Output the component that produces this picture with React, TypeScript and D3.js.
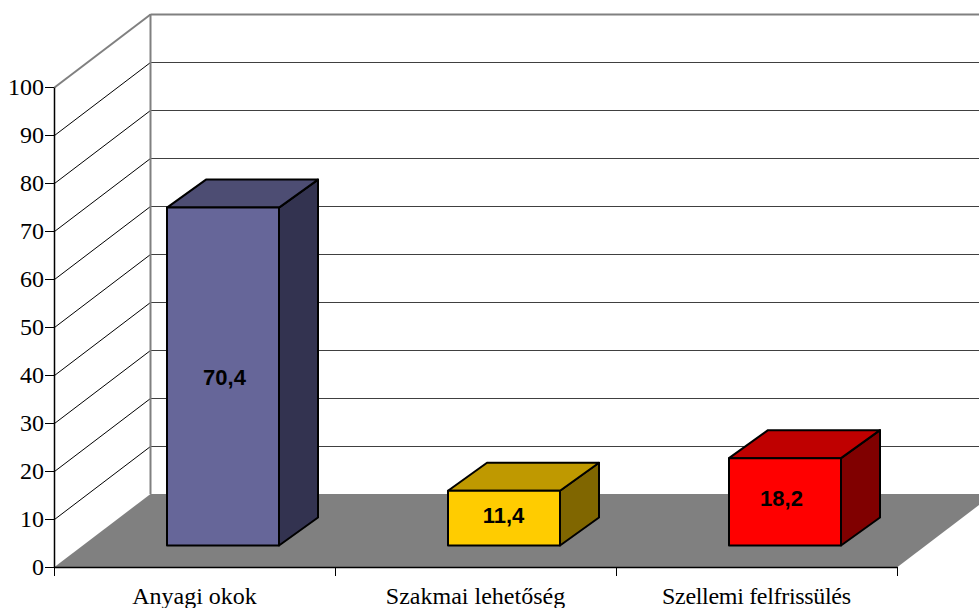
import React, { useEffect, useRef } from 'react';
import * as d3 from 'd3';

const categories = ['Anyagi okok', 'Szakmai lehetőség', 'Szellemi felfrissülés'];
const values = [70.4, 11.4, 18.2];
const valueLabels = ['70,4', '11,4', '18,2'];
const yTicks = [0, 10, 20, 30, 40, 50, 60, 70, 80, 90, 100];
const frontColors = ['#666699', '#ffcc00', '#ff0000'];
const topColors = ['#4d4d73', '#bf9900', '#bf0000'];
const sideColors = ['#333350', '#806600', '#800000'];

const App = () => {
  const svgRef = useRef<SVGSVGElement>(null);

  useEffect(() => {
    const svg = d3.select(svgRef.current);
    svg.selectAll('*').remove();

    const wallDx = 96;
    const wallDy = -73;
    // bars stand a bit inside the floor, and have their own depth
    const barDx = 28.5;
    const barDy = -21.5;
    const depthDx = 39;
    const depthDy = -28;
    const barWidth = 112;
    // value labels are not quite centred on the bars
    const labelNudgeX = [1.5, -0.5, -3.5];
    const labelNudgeY = [8.5, 5, 4];

    const x = d3.scaleBand().domain(categories).range([54, 897]);
    const y = d3.scaleLinear().domain([0, 100]).range([567, 87]);
    const x0 = x.range()[0] + 0.5;
    const x1 = x.range()[1] + 0.5;

    // floor
    svg.append('polygon')
      .attr('points', [
        [x0, y(0)],
        [x0 + wallDx, y(0) + wallDy],
        [x1 + wallDx, y(0) + wallDy],
        [x1, y(0)],
      ].join(' '))
      .attr('fill', '#808080');

    // grid on side wall and back wall
    const grid = svg.append('g');
    yTicks.filter(t => t > 0).forEach(t => {
      const top = t === 100;
      const gy = y(t) + 0.5;
      grid.append('line')
        .attr('x1', x0).attr('y1', gy)
        .attr('x2', x0 + wallDx).attr('y2', gy + wallDy)
        .attr('stroke', top ? '#808080' : '#000')
        .attr('stroke-width', top ? 2 : 1);
      grid.append('line')
        .attr('x1', x0 + wallDx).attr('y1', gy + wallDy)
        .attr('x2', x1 + wallDx).attr('y2', gy + wallDy)
        .attr('stroke', top ? '#808080' : '#404040')
        .attr('stroke-width', top ? 2 : 1);
    });
    grid.append('line')
      .attr('x1', x0 + wallDx).attr('y1', y(100) + wallDy)
      .attr('x2', x0 + wallDx).attr('y2', y(0) + wallDy)
      .attr('stroke', '#808080')
      .attr('stroke-width', 2);

    // bars
    const bars = svg.append('g')
      .attr('stroke', '#000')
      .attr('stroke-width', 2)
      .attr('stroke-linejoin', 'round');

    categories.forEach((c, i) => {
      const left = x(c)! + x.bandwidth() / 2 + barDx - barWidth / 2;
      const right = left + barWidth;
      const base = y(0) + barDy;
      const topY = y(values[i]) + barDy;

      bars.append('polygon')
        .attr('points', [
          [right, topY],
          [right + depthDx, topY + depthDy],
          [right + depthDx, base + depthDy],
          [right, base],
        ].join(' '))
        .attr('fill', sideColors[i]);
      bars.append('polygon')
        .attr('points', [
          [left, topY],
          [left + depthDx, topY + depthDy],
          [right + depthDx, topY + depthDy],
          [right, topY],
        ].join(' '))
        .attr('fill', topColors[i]);
      bars.append('rect')
        .attr('x', left)
        .attr('y', topY)
        .attr('width', barWidth)
        .attr('height', base - topY)
        .attr('fill', frontColors[i]);

      svg.append('text')
        .attr('x', (left + right) / 2 + labelNudgeX[i])
        .attr('y', (topY + base) / 2 + labelNudgeY[i])
        .attr('text-anchor', 'middle')
        .attr('font-family', '"Liberation Sans", Arial, sans-serif')
        .attr('font-weight', 'bold')
        .attr('font-size', 22)
        .attr('fill', '#000')
        .text(valueLabels[i]);
    });

    // axes
    const yAxis = svg.append('g')
      .attr('transform', `translate(${x.range()[0]},0)`)
      .call(d3.axisLeft(y).tickValues(yTicks).tickSize(9).tickPadding(1).tickSizeOuter(0));
    const xAxis = svg.append('g')
      .attr('transform', `translate(0,${y(0)})`)
      .call(d3.axisBottom(x).tickSize(0).tickPadding(0).tickSizeOuter(0));

    xAxis.selectAll('.tick line').remove();
    categories.concat(['']).forEach((_, i) => {
      const tx = x0 + i * x.step();
      xAxis.append('line')
        .attr('x1', tx).attr('x2', tx)
        .attr('y1', 0).attr('y2', 9)
        .attr('stroke', '#000');
    });

    [yAxis, xAxis].forEach(a => {
      a.attr('font-family', '"Liberation Serif", "Times New Roman", serif')
        .attr('font-size', 24);
      a.selectAll('text').attr('fill', '#000');
      a.selectAll('path').attr('stroke-width', 1.5);
    });
    xAxis.selectAll('text').attr('y', 37).attr('dy', 0);
    // the third label runs a little narrower in the original
    xAxis.selectAll('text').filter((_, i) => i === 2).attr('textLength', 189);
  }, []);

  return (
    <svg
      ref={svgRef}
      width={979}
      height={608}
      style={{ position: 'absolute', left: 0, top: 0, display: 'block', background: '#fff' }}
    />
  );
};

export default App;
